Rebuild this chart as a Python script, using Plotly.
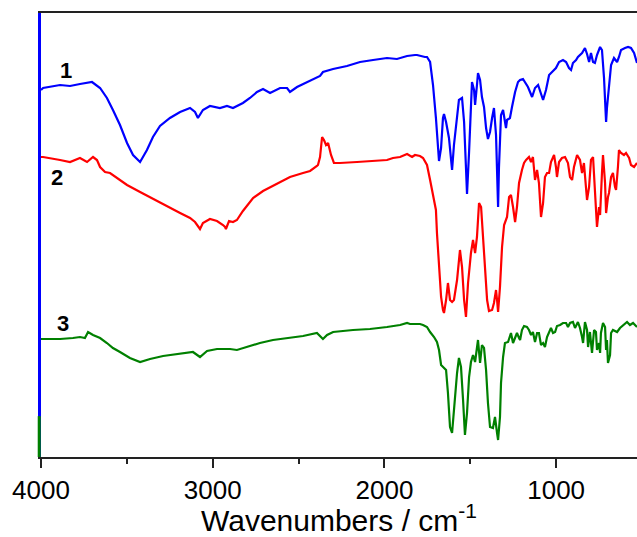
import plotly.graph_objects as go

# Wavenumbers (cm-1) and relative transmittance (arbitrary units, stacked)
wn1 = [4000, 3988, 3889, 3831, 3773, 3715, 3703, 3656, 3616, 3581, 3540, 3499, 3464, 3423,
       3383, 3348, 3307, 3249, 3190, 3132, 3103, 3086, 3057, 3016, 2958, 2917, 2882, 2824,
       2783, 2742, 2707, 2666, 2626, 2608, 2567, 2550, 2509, 2451, 2375, 2358, 2299, 2218,
       2142, 2066, 1985, 1927, 1868, 1822, 1810, 1764, 1752, 1734, 1717, 1700, 1688, 1682,
       1670, 1659, 1653, 1641, 1624, 1618, 1606, 1595, 1577, 1566, 1548, 1536, 1525, 1519,
       1507, 1496, 1490, 1478, 1472, 1461, 1455, 1443, 1432, 1420, 1408, 1397, 1385, 1373,
       1362, 1350, 1344, 1338, 1333, 1321, 1309, 1303, 1292, 1286, 1269, 1257, 1239, 1222,
       1210, 1193, 1181, 1164, 1140, 1123, 1105, 1088, 1076, 1059, 1041, 1018, 1001, 983,
       960, 942, 925, 913, 902, 884, 873, 849, 832, 820, 808, 797, 785, 774, 762, 744, 733,
       721, 715, 709, 704, 692, 680, 663, 645, 634, 622, 599, 581, 564, 546, 529]
t1 = [367, 369, 372, 371, 373, 375, 375, 369, 359, 347, 332, 314, 302, 295,
      307, 320, 331, 339, 345, 349, 345, 339, 347, 351, 349, 351, 349, 354,
      359, 365, 368, 364, 367, 369, 369, 365, 370, 375, 381, 385, 388, 391,
      395, 397, 399, 398, 401, 402, 402, 400, 400, 395, 372, 339, 312, 296,
      309, 339, 343, 335, 319, 309, 287, 312, 339, 357, 359, 335, 289, 263,
      305, 355, 375, 367, 352, 372, 384, 377, 360, 350, 329, 318, 325, 339,
      349, 322, 272, 250, 289, 342, 347, 340, 329, 337, 339, 350, 365, 375,
      377, 378, 375, 370, 360, 369, 372, 364, 357, 367, 382, 386, 389, 395,
      397, 395, 389, 387, 394, 397, 400, 404, 409, 403, 395, 404, 395, 394, 402, 410, 407,
      379, 347, 335, 349, 375, 392, 399, 395, 400, 407, 409, 410, 409, 404, 394]

wn2 = [4000, 3988, 3889, 3831, 3773, 3732, 3697, 3674, 3656, 3627, 3598, 3557, 3499, 3423,
       3348, 3266, 3190, 3132, 3103, 3074, 3057, 3016, 2975, 2940, 2928, 2923, 2905, 2882,
       2859, 2824, 2765, 2707, 2626, 2550, 2474, 2433, 2393, 2387, 2375, 2363, 2352, 2340,
       2328, 2311, 2294, 2259, 2160, 2066, 1985, 1950, 1909, 1868, 1839, 1822, 1793, 1775,
       1752, 1734, 1717, 1700, 1694, 1682, 1670, 1659, 1653, 1641, 1630, 1618, 1606, 1595,
       1577, 1560, 1548, 1536, 1525, 1513, 1496, 1484, 1472, 1461, 1449, 1437, 1426, 1414,
       1402, 1391, 1373, 1362, 1350, 1344, 1338, 1327, 1315, 1303, 1286, 1274, 1263, 1251,
       1239, 1228, 1216, 1199, 1187, 1175, 1158, 1146, 1135, 1123, 1111, 1100, 1088, 1076,
       1065, 1053, 1041, 1030, 1012, 1001, 995, 983, 966, 948, 931, 919, 907, 896, 878, 861,
       849, 838, 826, 820, 808, 797, 785, 774, 768, 762, 750, 744, 733, 727, 715, 709, 698,
       692, 680, 669, 657, 651, 640, 634, 622, 605, 593, 575, 564, 546, 529]
t2 = [300, 300, 297, 295, 299, 295, 300, 297, 290, 285, 284, 279, 272, 265,
      258, 251, 244, 239, 235, 228, 234, 238, 236, 232, 230, 228, 236, 235,
      237, 246, 259, 266, 273, 280, 284, 286, 291, 292, 300, 320, 317, 312,
      314, 302, 294, 294, 295, 296, 297, 299, 300, 303, 300, 302, 301, 299,
      292, 277, 260, 247, 224, 190, 160, 147, 144, 157, 174, 157, 155, 157,
      177, 207, 190, 157, 140, 174, 204, 217, 204, 220, 254, 250, 224, 190,
      157, 146, 147, 154, 167, 157, 145, 170, 210, 232, 240, 260, 262, 250,
      235, 250, 274, 287, 294, 297, 300, 295, 300, 277, 287, 274, 240, 254,
      280, 284, 284, 295, 302, 290, 280, 295, 299, 300, 294, 280, 277, 290, 302, 297,
      284, 294, 274, 257, 270, 297, 300, 267, 240, 230, 250, 242, 284, 302, 274, 244, 260,
      264, 280, 284, 270, 267, 290, 307, 304, 302, 304, 299, 292, 290, 294]

wn3 = [4000, 3988, 3889, 3814, 3773, 3744, 3726, 3697, 3656, 3616, 3581, 3540, 3482, 3423,
       3365, 3289, 3190, 3115, 3074, 3033, 2975, 2899, 2859, 2800, 2725, 2649, 2550, 2474,
       2393, 2375, 2358, 2334, 2299, 2183, 2084, 1985, 1909, 1868, 1851, 1833, 1793, 1775,
       1752, 1734, 1711, 1694, 1682, 1670, 1653, 1641, 1630, 1618, 1606, 1595, 1577, 1566,
       1554, 1542, 1531, 1519, 1507, 1496, 1484, 1472, 1461, 1455, 1443, 1432, 1420, 1408,
       1397, 1385, 1368, 1356, 1344, 1338, 1327, 1321, 1309, 1298, 1280, 1269, 1263, 1251,
       1239, 1228, 1216, 1210, 1199, 1187, 1170, 1158, 1146, 1135, 1123, 1111, 1100, 1088,
       1076, 1065, 1053, 1041, 1030, 1018, 1006, 995, 977, 960, 942, 931, 919, 902, 890,
       873, 861, 849, 843, 832, 820, 814, 803, 791, 779, 768, 762, 750, 744, 739, 727, 715,
       709, 704, 698, 686, 680, 669, 645, 628, 605, 587, 570, 552, 529]
t3 = [118, 118, 118, 119, 120, 119, 125, 122, 119, 114, 109, 105, 99, 95,
      98, 101, 103, 105, 100, 106, 108, 108, 107, 110, 114, 117, 119, 121,
      124, 121, 118, 122, 125, 127, 128, 130, 132, 134, 133, 133, 133, 132,
      130, 125, 120, 115, 107, 92, 89, 87, 64, 30, 24, 50, 84, 99,
      90, 57, 22, 44, 80, 95, 102, 95, 110, 117, 94, 112, 109, 87,
      54, 30, 29, 40, 24, 17, 40, 74, 100, 114, 115, 122, 124, 114,
      120, 124, 119, 117, 127, 131, 130, 127, 122, 125, 115, 124, 124, 112,
      114, 110, 120, 124, 129, 124, 125, 131, 132, 134, 134, 130, 134, 135, 129,
      135, 129, 120, 114, 135, 127, 110, 125, 104, 127, 125, 107, 114, 104, 124, 134, 130,
      107, 117, 94, 102, 124, 127, 125, 129, 132, 135, 132, 134, 130]

labels = ["1", "2", "3"]
label_wn = [3854, 3907, 3872]
label_t = [387, 280, 134]

x_ticks = [4000, 3000, 2000, 1000]
x_range = [4000, 529]
y_range = [0, 444]

FONT = "Arial, Liberation Sans, sans-serif"

fig = go.Figure()
for wn, t, col in [(wn1, t1, "#0000FF"), (wn2, t2, "#FF0000"), (wn3, t3, "#008000")]:
    fig.add_trace(go.Scatter(x=wn, y=t, mode="lines",
                             line=dict(color=col, width=2.2), showlegend=False,
                             hoverinfo="skip"))

for lab, xw, yt in zip(labels, label_wn, label_t):
    fig.add_annotation(x=xw, y=yt, text=f"<b>{lab}</b>", showarrow=False,
                       font=dict(family=FONT, size=22, color="black"))

# coloured left spine segment (green, lower part)
fig.add_shape(type="line", xref="paper", yref="paper", x0=-0.003, x1=-0.003, y0=0, y1=0.092,
              line=dict(color="#008000", width=3), layer="above")

fig.update_layout(
    width=637, height=537,
    margin=dict(l=41, r=0, t=13, b=80),
    paper_bgcolor="white", plot_bgcolor="white",
    font=dict(family=FONT, color="black"),
    xaxis=dict(range=x_range, tickvals=x_ticks, ticks="outside", ticklen=9, tickwidth=1.5,
               tickcolor="#222", showline=True, linecolor="#222", linewidth=2, mirror=True,
               showgrid=False, zeroline=False, tickfont=dict(size=26),
               minor=dict(dtick=500, tick0=0, ticks="outside", ticklen=5, tickwidth=1.5,
                          tickcolor="#222", showgrid=False),
               title=dict(text="Wavenumbers / cm<sup>-1</sup>", font=dict(size=30), standoff=6)),
    yaxis=dict(range=y_range, showline=True, linecolor="#0000FF", linewidth=2.5,
               showticklabels=False, ticks="", showgrid=False, zeroline=False),
)

fig.write_html("out.html")
